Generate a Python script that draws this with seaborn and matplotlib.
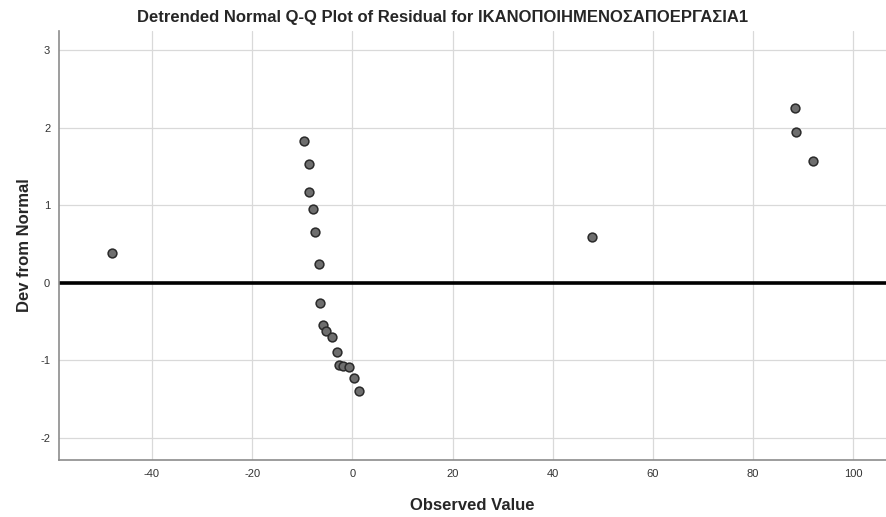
import matplotlib
matplotlib.use("Agg")
import matplotlib.pyplot as plt
import pandas as pd
import seaborn as sns

observed = [-48.0, -9.6, -8.7, -8.6, -7.8, -7.4, -6.7, -6.5, -5.8, -5.3, -4.1,
            -3.0, -2.6, -1.9, -0.7, 0.3, 1.3, 47.8, 88.3, 88.6, 92.0]
dev_from_normal = [0.38, 1.83, 1.53, 1.17, 0.95, 0.65, 0.24, -0.26, -0.55, -0.63, -0.70,
                   -0.89, -1.06, -1.08, -1.09, -1.23, -1.40, 0.59, 2.26, 1.95, 1.57]

x_ticks = [-40, -20, 0, 20, 40, 60, 80, 100]
y_ticks = [-2, -1, 0, 1, 2, 3]

df = pd.DataFrame({"observed": observed, "dev": dev_from_normal})

sns.set_style("white")
plt.rcParams["font.family"] = ["Liberation Sans", "DejaVu Sans"]
plt.rcParams["axes.unicode_minus"] = False

fig = plt.figure(figsize=(8.86, 5.17), dpi=100)
ax = fig.add_axes([0.0669, 0.1102, 0.933, 0.830])

ax.set_axisbelow(True)
ax.grid(True, color="#d9d9d9", linewidth=0.9)
ax.axhline(0, color="black", linewidth=2.6, zorder=2)

sns.scatterplot(data=df, x="observed", y="dev", ax=ax, s=40, color="#6e6e6e",
                edgecolor="#2a2a2a", linewidth=1.1, zorder=3)

ax.set_xlim(-58.5, 106.5)
ax.set_ylim(-2.29, 3.25)
ax.set_xticks(x_ticks)
ax.set_yticks(y_ticks)
ax.tick_params(axis="both", labelsize=8, labelcolor="#333333", length=3, width=0.8,
               color="#999999")

for side in ["top", "right"]:
    ax.spines[side].set_visible(False)
for side in ["left", "bottom"]:
    ax.spines[side].set_color("#8c8c8c")
    ax.spines[side].set_linewidth(1.2)

ax.set_xlabel("Observed Value", fontsize=12, fontweight="bold", labelpad=14)
ax.set_ylabel("Dev from Normal", fontsize=12, fontweight="bold", labelpad=6)

fig.text(0.5, 0.967, "Detrended Normal Q-Q Plot of Residual for ΙΚΑΝΟΠΟΙΗΜΕΝΟΣΑΠΟΕΡΓΑΣΙΑ1",
         ha="center", va="center", fontsize=12, fontweight="bold")

fig.savefig("out.png", dpi=100)
